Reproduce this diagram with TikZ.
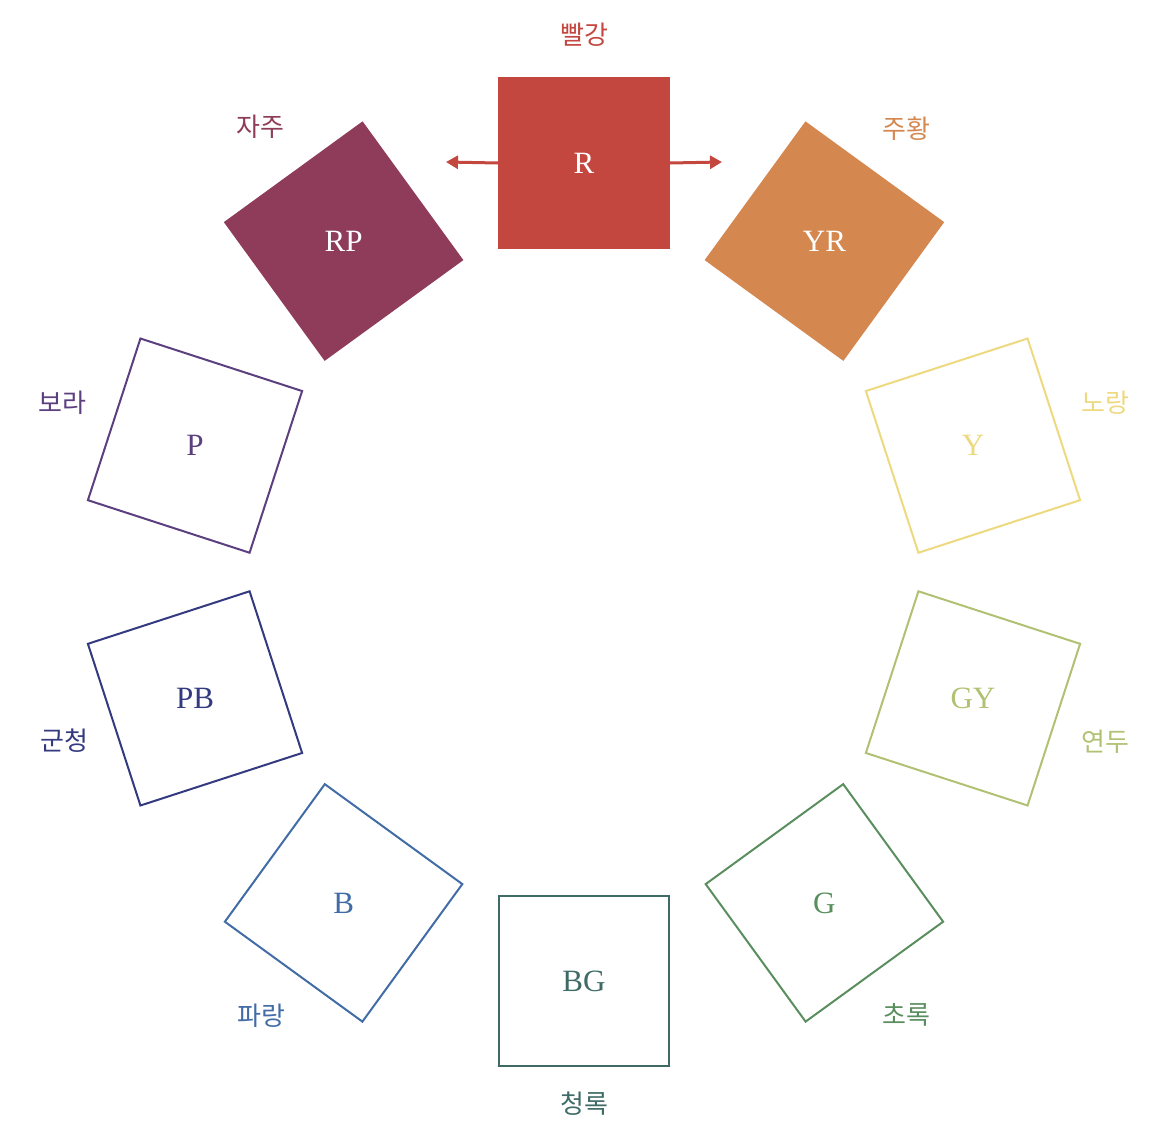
\documentclass[tikz,border=0pt]{standalone}
\usepackage{fontspec}
\setmainfont{Liberation Serif}
\newfontfamily\kr{Noto Sans CJK KR}
\usetikzlibrary{arrows.meta}
\definecolor{cR}{HTML}{C4473F}
\definecolor{cYR}{HTML}{D4874F}
\definecolor{cY}{HTML}{EDD97F}
\definecolor{cGY}{HTML}{B0C173}
\definecolor{cG}{HTML}{5A8E5E}
\definecolor{cBG}{HTML}{3F6B66}
\definecolor{cB}{HTML}{416CA5}
\definecolor{cPB}{HTML}{343A7F}
\definecolor{cP}{HTML}{5B3F7F}
\definecolor{cRP}{HTML}{8E3C5A}
\tikzset{
  filledbox/.style={draw=#1, fill=#1, line width=1.5pt, minimum size=170pt, inner sep=0pt},
  openbox/.style={draw=#1, line width=2pt, minimum size=170pt, inner sep=0pt},
  code/.style={font=\fontsize{31}{34}\selectfont, text=#1, inner sep=0pt},
  hue/.style={font=\kr\fontsize{26}{30}\selectfont, text=#1, inner sep=0pt},
  arrowline/.style={draw=cR, line width=3pt, -{Triangle[length=12pt,width=13pt]}}
}
\begin{document}
\begin{tikzpicture}[x=1pt,y=1pt]
\useasboundingbox (0,0) rectangle (1152,-1128);
\coordinate (C) at (584,-572);
\foreach \k/\n/\col/\sty/\tc/\lab/\lr in {
  0/R/cR/filledbox/white/빨강/537,
  1/YR/cYR/filledbox/white/주황/548,
  2/Y/cY/openbox/cY/노랑/548,
  3/GY/cGY/openbox/cGY/연두/548,
  4/G/cG/openbox/cG/초록/548,
  5/BG/cBG/openbox/cBG/청록/532,
  6/B/cB/openbox/cB/파랑/548,
  7/PB/cPB/openbox/cPB/군청/546,
  8/P/cP/openbox/cP/보라/548,
  9/RP/cRP/filledbox/white/자주/550}{
  \path (C) ++({90-36*\k}:409) node[\sty=\col, rotate={-36*\k}] (\n box) {};
  \node[code=\tc] (\n) at (\n box.center) {\n};
  \path (C) ++({90-36*\k}:\lr) node[hue=\col] (\n lab) {\lab};
}
\coordinate (Rleft) at (446,-162);
\coordinate (Rright) at (722,-162);
\draw[arrowline] (Rbox.west) -- (Rleft);
\draw[arrowline] (Rbox.east) -- (Rright);
\end{tikzpicture}
\end{document}
